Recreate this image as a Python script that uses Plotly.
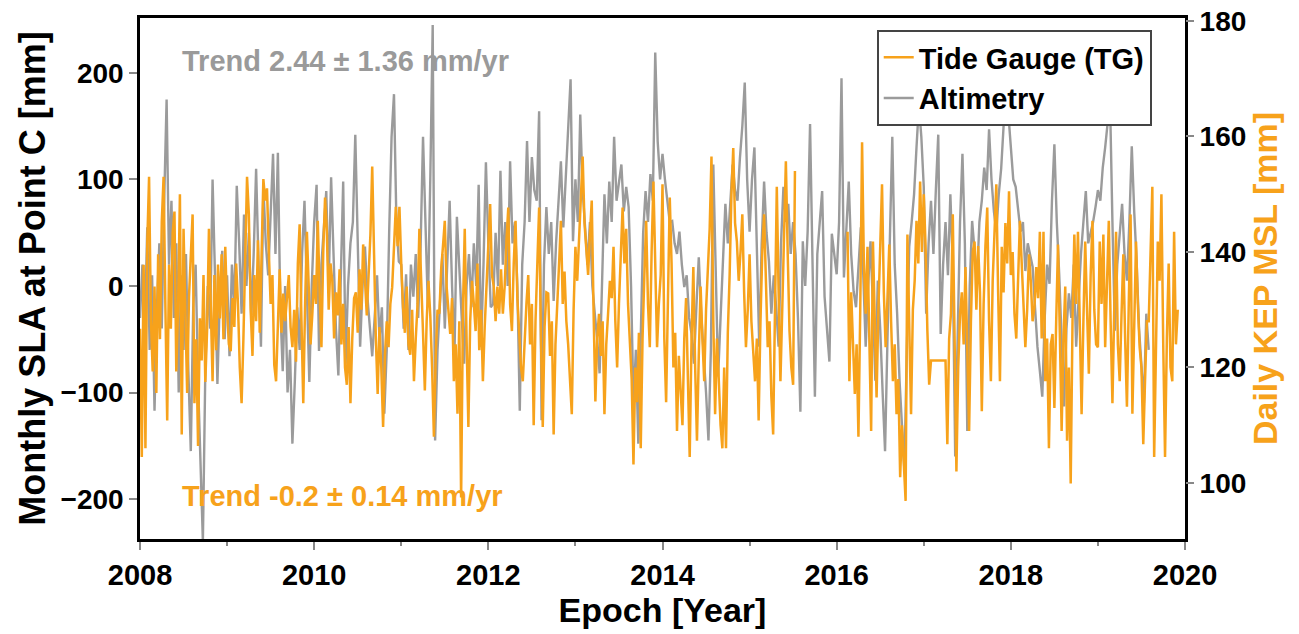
import plotly.graph_objects as go

# ---------------- Altimetry (grey, left axis, mm) : 36 samples per year ----------------
alt_2008 = [-30, 20, -40, 55, -60, 10, -117, -20, 40, -40, 80, 175, 20, 80, -30, 40, -100, 10,
            -60, 30, -80, -155, -20, 20, -90, -170, -240, -80, 0, -40, 100, 10, -92, -10, 33, -50]
alt_2009 = [10, -66, 20, -20, 94, 40, -26, 67, 0, 50, -30, 30, 110, 20, -57, 93, 40, 10,
            70, 124, 30, 125, -20, -80, 0, -100, -60, -148, -90, -20, -60, 30, 80, -20, -90, 0]
alt_2010 = [60, 95, -61, 20, 50, 89, 0, 102, 30, -40, -84, 20, 98, -73, 0, 40, 60, 142,
            30, -57, 0, 37, -10, -40, -66, -30, 10, -50, -20, -120, -60, 50, 140, 180, 60, 23]
alt_2011 = [20, -40, 11, -60, 20, -10, 30, -30, 37, 140, 50, -20, 100, 245, -145, -60, -17, 30,
            -40, 20, 80, 0, -64, 65, 10, -30, -73, 0, 30, -20, 40, 0, 95, -57, 20, 116]
alt_2012 = [40, -20, -17, 50, 0, 108, 20, 60, 0, 117, 40, 60, 0, -117, 20, 60, 136, 60,
            121, 90, 80, 164, -126, 20, 74, 30, 60, -14, 40, 80, 117, 55, 100, 140, 194, 42]
alt_2013 = [100, 60, 161, 90, 51, 20, 60, 0, -26, -50, -82, 0, 86, 40, 98, 60, 140, 80,
            100, 114, 70, 93, 74, 0, -110, -60, -148, -40, 50, 89, 60, 105, 80, 219, 136, 100]
alt_2014 = [124, 100, 77, 60, 61, 40, 30, 51, 20, -1, 10, -30, -45, -73, -20, 27, -26, -60,
            -100, -145, -60, 114, 0, -85, -30, 20, 77, 40, 80, 114, 90, 80, 120, 150, 191, 100]
alt_2015 = [51, 100, 130, 30, -57, 40, 98, 50, 23, -26, 10, -20, -57, 40, 93, 60, 77, 30,
            60, 30, -30, -118, 42, 0, 51, 152, 20, -104, 30, 60, 89, -10, -40, -71, 49, 30]
alt_2016 = [11, 60, 195, 8, 49, 98, 30, -5, -20, 20, 55, 10, -57, 0, 42, -20, -89, 5,
            -40, -100, -155, -50, 60, 140, 20, -26, -89, -130, -173, -60, 37, 60, 86, 130, 170, 140]
alt_2017 = [93, -26, 40, 80, 30, 90, 142, -45, 20, 60, 10, 86, 20, -160, -40, 60, 124, 40,
            -136, 0, 61, 30, 5, 60, 80, 111, 90, 147, 100, 70, 51, 86, 110, 150, 175, 161]
alt_2018 = [130, 100, 93, 70, 51, 60, 14, 40, 30, 18, -20, -57, -80, -104, -30, 20, 2, 80,
            133, 60, 11, -60, -113, -40, -7, -30, 20, -57, -10, 30, 60, 89, 40, 49, 60, 74]
alt_2019 = [90, 80, 111, 130, 150, 175, 60, -42, 20, 51, 77, 30, 5, 60, 131, 70, 23, -40,
            -80, -110, -26, -60]

# ---------------- Tide gauge (orange, right axis, mm) : 48 samples per year ----------------
tg_2008 = [126.7, 104.5, 137.8, 106.0, 141.5, 153.0, 128.5, 119.3, 134.0, 115.6, 139.6, 124.9,
           145.2, 153.0, 130.4, 110.8, 137.8, 126.7, 143.3, 147.0, 119.3, 130.4, 150.0, 108.4,
           144.0, 128.5, 115.6, 132.2, 139.6, 146.5, 113.8, 124.9, 106.4, 128.5, 121.2, 136.0,
           117.5, 126.7, 144.0, 130.4, 117.6, 136.0, 123.0, 137.8, 128.5, 139.6, 124.9, 140.9]
tg_2009 = [130, 124, 122.8, 132, 127, 138, 131, 120, 113.8, 125, 140, 153,
           146.5, 130, 122, 136, 128, 142, 126, 140, 152.6, 148.9, 151, 140,
           131, 136, 120.5, 117.6, 128, 137, 126, 132.8, 128, 131.5, 136, 127,
           123.5, 130, 121, 138, 144.8, 128, 113.8, 131, 143.5, 134, 124, 129.3]
tg_2010 = [136, 131, 145.4, 133, 123.5, 140, 149.4, 143.5, 130, 138, 135, 125,
           133, 129, 137, 124, 131, 120, 117, 127, 113.8, 125, 132, 133,
           126, 137, 130, 141.3, 134, 129, 136, 143, 154.8, 138, 125, 115.4,
           127, 120, 109.7, 122, 128, 123.5, 131, 133.9, 140, 147.8, 141, 147.8]
tg_2011 = [138, 130.4, 126, 134, 124, 122.2, 130, 117.6, 125, 131, 144, 133,
           126, 116, 128, 135, 129, 120, 108, 122, 130, 129.3, 137, 141,
           145.4, 134, 130, 125.8, 132, 117.6, 124, 112, 128, 97.5, 130, 144,
           125, 109.7, 128, 135, 131, 126.3, 138, 123, 130, 117.6, 127, 134]
tg_2012 = [140, 148.3, 136, 134, 128, 134, 129.3, 137, 129.3, 134, 142, 147.7,
           131, 126.3, 138, 145.4, 132, 125, 120, 117.6, 126, 131, 136, 124,
           131, 110, 128, 140, 147.7, 125, 109.7, 127, 133, 132.8, 122, 128,
           108.4, 124, 130, 138, 145.4, 131, 136.6, 128, 124, 118, 111.9, 130]
tg_2013 = [140.9, 135, 142, 150, 156.5, 145, 140.9, 136, 143, 148.9, 130, 114.1,
           125, 129.3, 122, 128, 111.9, 124, 129.3, 135, 132, 140.9, 128, 120,
           131, 140, 147.7, 138, 144, 131, 123.5, 118, 103.2, 120, 114, 126,
           106, 125, 136, 145.4, 131, 123.5, 140, 152.2, 138, 123.5, 131, 136]
tg_2014 = [151.7, 125, 114, 131, 149.4, 138, 120, 126, 109, 122, 117, 110,
           125, 132, 118, 104.5, 125, 137.4, 120, 107.3, 122, 134, 125, 117.6,
           130, 138, 144, 156.5, 128, 111.9, 125, 118, 110, 106, 120, 106,
           126, 136, 150, 158, 145, 141.8, 135, 140, 146.5, 133, 123.5, 130]
tg_2015 = [139.6, 128, 122, 117.6, 125, 110.8, 128, 140, 146.5, 135, 123.5, 128,
           115, 108.4, 130, 151.3, 133, 117.6, 130, 145, 155.7, 140, 126.3, 120,
           117, 154] + [None] * 22
tg_2016 = [None] * 6 + [143.5, 117.6, 133, 125, 115.4, 124,
           108, 130, 159, 138, 129.3, 140.9, 122, 109, 141.8, 128, 114.8, 130,
           140, 151.7, 133, 123.5, 132, 141.3, 128, 117.6, 124, 111.9, 118, 101,
           110, 104, 96.9, 143, 124, 111.9, 130, 135, 145.4, 138, 152.2, 140]
tg_2017 = [150, 141, 126.3, 117, 121.2, None, None, None, None, None, None, None,
           121.2, 106.7, 125, 129.3, 146.5, 125, 102, 120, 129.3, 133, 124, 137.4,
           120, 109, 128, 140, 141.8, 130, 141, 133, 112.4, 131, 141, 147.7,
           128, 117.6, 135, 144, 151.7, 133, 117.6, 140.9, 133, 145, 138, 150.5]
tg_2018 = [136, 140, 129.3, 125, 137, 145.4, 138, 131, 123.5, 130, 139.6, 135,
           128, 130.4, 137.4, 132, 143.5, 125, 143.5, 117.6, 125, 106, 124, 125.8,
           113, 128, 141.3, 126, 109, 125, 134, 107.3, 120, 99.9, 128, 143,
           131, 143.5, 124, 111.9, 128, 141.8, 130, 118.9, 136, 145.4, 130, 124]
tg_2019 = [123.5, 141.8, 131, 143, 123.5, 135, 145.4, 128, 113.8, 130, 143.5, 124,
           117.6, 129, 139.6, 125, 113.2, 131, 146.5, 112, 129, 141.8, 131, 123.5,
           120, 106.7, 118, 128, 128, 140, 151.3, 104.5, 125, 141.8, 135, 150,
           124, 104.5, 125, 138, 120, 117.6, 143.5, 124, 130]

years = list(range(2008, 2020))
alt_by_year = [alt_2008, alt_2009, alt_2010, alt_2011, alt_2012, alt_2013,
               alt_2014, alt_2015, alt_2016, alt_2017, alt_2018, alt_2019]
tg_by_year = [tg_2008, tg_2009, tg_2010, tg_2011, tg_2012, tg_2013,
              tg_2014, tg_2015, tg_2016, tg_2017, tg_2018, tg_2019]
ALT_PER_YEAR = 36
TG_PER_YEAR = 48
TG_BRIDGED_GAP = (2017.05, 2017.25)   # short gap drawn as a straight connecting line

alt_t, alt_v = [], []
for yr, vals in zip(years, alt_by_year):
    for i, v in enumerate(vals):
        alt_t.append(yr + i / ALT_PER_YEAR)
        alt_v.append(v)

tg_t, tg_v = [], []
for yr, vals in zip(years, tg_by_year):
    for i, v in enumerate(vals):
        t = yr + i / TG_PER_YEAR
        if v is None and TG_BRIDGED_GAP[0] <= t <= TG_BRIDGED_GAP[1]:
            continue
        tg_t.append(t)
        tg_v.append(v)

ORANGE = "#F7A21B"
GREY = "#9B9B9B"
FONT = "Liberation Sans, Arial, Helvetica, sans-serif"

fig = go.Figure()
fig.add_trace(go.Scatter(x=alt_t, y=alt_v, mode="lines", name="Altimetry",
                         line=dict(color=GREY, width=2.4), yaxis="y", legendrank=2))
fig.add_trace(go.Scatter(x=tg_t, y=tg_v, mode="lines", name="Tide Gauge (TG)",
                         line=dict(color=ORANGE, width=2.5), yaxis="y2", legendrank=1,
                         connectgaps=False))

fig.add_annotation(x=2008.46, y=211, xref="x", yref="y", xanchor="left", yanchor="middle",
                   text="Trend 2.44 ± 1.36 mm/yr", showarrow=False,
                   font=dict(family=FONT, size=29, color="#9A9A9A", weight="bold"))
fig.add_annotation(x=2008.46, y=-197, xref="x", yref="y", xanchor="left", yanchor="middle",
                   text="Trend -0.2 ± 0.14 mm/yr", showarrow=False,
                   font=dict(family=FONT, size=29, color=ORANGE, weight="bold"))

xtickfont = dict(family=FONT, size=29, color="black", weight="bold")
ytickfont = dict(family=FONT, size=28, color="black", weight="bold")

fig.update_layout(
    width=1299, height=634,
    margin=dict(l=140, r=114, t=18, b=95),
    paper_bgcolor="white", plot_bgcolor="white",
    font=dict(family=FONT, color="black"),
    showlegend=True,
    legend=dict(x=0.705, y=0.977, xanchor="left", yanchor="top",
                bgcolor="white", bordercolor="#444", borderwidth=2,
                font=dict(family=FONT, size=29, color="black", weight="bold"),
                tracegroupgap=0, itemwidth=30),
    xaxis=dict(range=[2008, 2020], tick0=2008, dtick=2, ticks="outside", ticklen=8,
               tickcolor="#888", tickwidth=1.5, showline=True, linecolor="black",
               linewidth=2.5, mirror=True, showgrid=False, zeroline=False,
               tickfont=xtickfont, automargin=False,
               title=dict(text="Epoch [Year]",
                          font=dict(family=FONT, size=34, color="black", weight="bold"),
                          standoff=2),
               minor=dict(dtick=1, tick0=2008, ticks="outside", ticklen=4,
                          tickcolor="#888", tickwidth=1.5, showgrid=False)),
    yaxis=dict(range=[-237.5, 251.5], tickvals=[-200, -100, 0, 100, 200], ticks="outside",
               ticklen=8, tickcolor="#888", tickwidth=1.5, showline=True,
               linecolor="black", linewidth=2.5, mirror=True, showgrid=False,
               zeroline=False, tickfont=ytickfont, automargin=False,
               title=dict(text="Monthly SLA at Point C [mm]",
                          font=dict(family=FONT, size=36, color="black", weight="bold"),
                          standoff=4)),
    yaxis2=dict(range=[90.3, 180.5], tickvals=[100, 120, 140, 160, 180], overlaying="y",
                side="right", ticks="outside", ticklen=8, tickcolor="#888", tickwidth=1.5,
                showline=False, showgrid=False, zeroline=False, tickfont=ytickfont,
                automargin=False,
                title=dict(text="Daily KEP MSL [mm]",
                           font=dict(family=FONT, size=34, color=ORANGE, weight="bold"),
                           standoff=6)),
)

# remove the default 8 px page margin so the figure fills the 1299x634 window exactly
fig.write_html("out.html", config={"displayModeBar": False},
               post_script="document.body.style.margin='0';")
